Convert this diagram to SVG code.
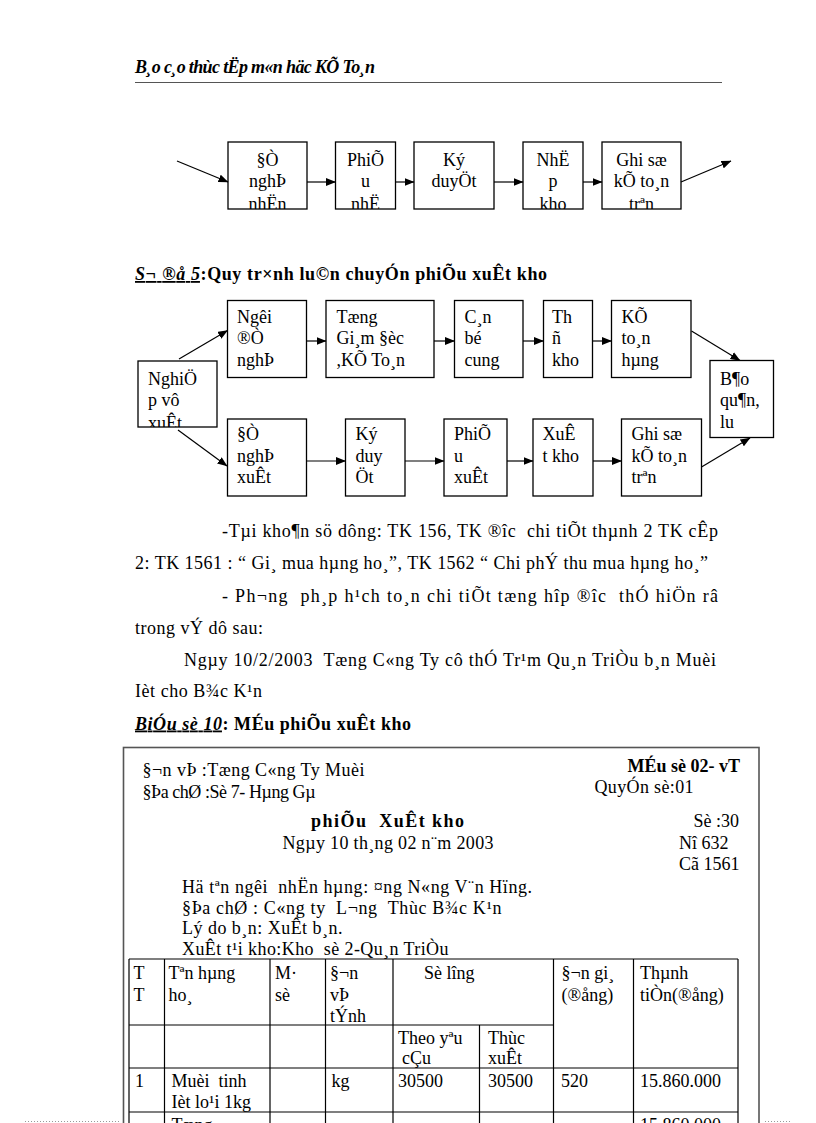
<svg xmlns="http://www.w3.org/2000/svg" width="816" height="1123" viewBox="0 0 816 1123">
<style>
.t{font-family:"Liberation Serif","Times New Roman",serif;font-size:18px;fill:#000}
.c{text-anchor:middle}
.b{font-weight:bold}
.bi{font-weight:bold;font-style:italic}
.u{text-decoration:underline}
.box{fill:#fff;stroke:#000;stroke-width:1.3}
.lnk{stroke:#000;stroke-width:1.2;fill:none;marker-end:url(#ah)}
.tbl{stroke:#000;stroke-width:1.2;fill:none}
.frm{stroke:#555;stroke-width:1.6;fill:none}
</style>
<defs>
<marker id="ah" markerUnits="userSpaceOnUse" markerWidth="10" markerHeight="8" refX="9.5" refY="4" orient="auto"><path d="M0,0 L10,4 L0,8 z" fill="#000"/></marker>
<clipPath id="c1"><rect x="228" y="142" width="79" height="67"/></clipPath>
<clipPath id="c2"><rect x="335.5" y="142" width="60" height="67"/></clipPath>
<clipPath id="c4"><rect x="523" y="142" width="60" height="67"/></clipPath>
<clipPath id="c5"><rect x="602" y="142" width="79" height="67"/></clipPath>
<clipPath id="cL"><rect x="138" y="361" width="79" height="66"/></clipPath>
</defs>
<rect width="816" height="1123" fill="#fff"/>

<g id="header">
<text class="t bi" x="135" y="73" font-size="16" textLength="240" lengthAdjust="spacing">B¸o c¸o thùc tËp m«n häc KÕ To¸n</text>
<line x1="135" y1="82.5" x2="722" y2="82.5" stroke="#555" stroke-width="1"/>
</g>

<!-- Diagram 1 -->
<g id="d1-n1"><rect class="box" x="228" y="142" width="79" height="67"/>
<g clip-path="url(#c1)"><text class="t c" x="267.5" y="165.5">§Ò</text><text class="t c" x="267.5" y="187">nghÞ</text><text class="t c" x="267.5" y="210">nhËn</text></g></g>
<g id="d1-n2"><rect class="box" x="335.5" y="142" width="60" height="67"/>
<g clip-path="url(#c2)"><text class="t c" x="365.5" y="165.5">PhiÕ</text><text class="t c" x="365.5" y="187">u</text><text class="t c" x="365.5" y="210">nhË</text></g></g>
<g id="d1-n3"><rect class="box" x="414" y="142" width="80" height="67"/>
<text class="t c" x="454" y="165.5">Ký</text><text class="t c" x="454" y="187">duyÖt</text></g>
<g id="d1-n4"><rect class="box" x="523" y="142" width="60" height="67"/>
<g clip-path="url(#c4)"><text class="t c" x="553" y="165.5">NhË</text><text class="t c" x="553" y="187">p</text><text class="t c" x="553" y="210">kho</text></g></g>
<g id="d1-n5"><rect class="box" x="602" y="142" width="79" height="67"/>
<g clip-path="url(#c5)"><text class="t c" x="641.5" y="165.5">Ghi sæ</text><text class="t c" x="641.5" y="187">kÕ to¸n</text><text class="t c" x="641.5" y="210">trªn</text></g></g>

<g id="d1-connectors">
<line class="lnk" x1="177" y1="161" x2="228" y2="182"/>
<line class="lnk" x1="307" y1="182" x2="335.5" y2="182"/>
<line class="lnk" x1="395.5" y1="182" x2="414" y2="182"/>
<line class="lnk" x1="494" y1="182" x2="523" y2="182"/>
<line class="lnk" x1="583" y1="182" x2="602" y2="182"/>
<line class="lnk" x1="681" y1="182" x2="731" y2="161"/>
</g>

<g id="title2">
<text class="t b" x="135" y="280" font-size="17.5" textLength="412" lengthAdjust="spacing"><tspan class="bi u">S¬ ®å 5</tspan>:Quy tr×nh lu©n chuyÓn phiÕu xuÊt kho</text>
</g>

<!-- Diagram 2 -->
<g id="d2-nghiep"><rect class="box" x="138" y="361" width="79" height="66"/>
<g clip-path="url(#cL)"><text class="t" x="148" y="384.5">NghiÖ</text><text class="t" x="148" y="406">p vô</text><text class="t" x="148" y="429">xuÊt</text></g></g>
<g id="d2-nguoi"><rect class="box" x="227.5" y="300.5" width="79" height="77"/>
<text class="t" x="237" y="322.5">Ngêi</text><text class="t" x="237" y="344">®Ò</text><text class="t" x="237" y="365.5">nghÞ</text></g>
<g id="d2-tong"><rect class="box" x="326" y="300.5" width="108" height="77"/>
<text class="t" x="336.5" y="322.5">Tæng</text><text class="t" x="336.5" y="344">Gi¸m §èc</text><text class="t" x="336.5" y="365.5">,KÕ To¸n</text></g>
<g id="d2-canbo"><rect class="box" x="454.5" y="300.5" width="68.5" height="77"/>
<text class="t" x="464.5" y="322.5">C¸n</text><text class="t" x="464.5" y="344">bé</text><text class="t" x="464.5" y="365.5">cung</text></g>
<g id="d2-thukho"><rect class="box" x="543.5" y="300.5" width="49" height="77"/>
<text class="t" x="552" y="322.5">Th</text><text class="t" x="552" y="344">ñ</text><text class="t" x="552" y="365.5">kho</text></g>
<g id="d2-ketoan"><rect class="box" x="611.5" y="300.5" width="79.5" height="77"/>
<text class="t" x="621.5" y="322.5">KÕ</text><text class="t" x="621.5" y="344">to¸n</text><text class="t" x="621.5" y="365.5">hµng</text></g>
<g id="d2-baoquan"><rect class="box" x="710" y="360.5" width="63.5" height="77"/>
<text class="t" x="720" y="384.5">B¶o</text><text class="t" x="720" y="406">qu¶n,</text><text class="t" x="720" y="427.5">lu</text></g>
<g id="d2-denghi"><rect class="box" x="227.5" y="419" width="79" height="77"/>
<text class="t" x="237" y="440">§Ò</text><text class="t" x="237" y="461.5">nghÞ</text><text class="t" x="237" y="483">xuÊt</text></g>
<g id="d2-kyduyet"><rect class="box" x="345.5" y="419" width="59.5" height="77"/>
<text class="t" x="355.5" y="440">Ký</text><text class="t" x="355.5" y="461.5">duy</text><text class="t" x="355.5" y="483">Öt</text></g>
<g id="d2-phieu"><rect class="box" x="444" y="419" width="63" height="77"/>
<text class="t" x="454" y="440">PhiÕ</text><text class="t" x="454" y="461.5">u</text><text class="t" x="454" y="483">xuÊt</text></g>
<g id="d2-xuatkho"><rect class="box" x="533" y="419" width="60" height="77"/>
<text class="t" x="542.5" y="440">XuÊ</text><text class="t" x="542.5" y="461.5">t kho</text></g>
<g id="d2-ghiso"><rect class="box" x="621.5" y="419" width="80" height="77"/>
<text class="t" x="631.5" y="440">Ghi sæ</text><text class="t" x="631.5" y="461.5">kÕ to¸n</text><text class="t" x="631.5" y="483">trªn</text></g>

<g id="d2-connectors">
<line class="lnk" x1="179" y1="359" x2="227.5" y2="330.5"/>
<line class="lnk" x1="178" y1="430" x2="227" y2="466"/>
<line class="lnk" x1="306.5" y1="341" x2="326" y2="341"/>
<line class="lnk" x1="434" y1="341" x2="454.5" y2="341"/>
<line class="lnk" x1="523" y1="341" x2="543.5" y2="341"/>
<line class="lnk" x1="592.5" y1="341" x2="611.5" y2="341"/>
<line class="lnk" x1="691.5" y1="331" x2="740" y2="360.5"/>
<line class="lnk" x1="306.5" y1="461" x2="345.5" y2="461"/>
<line class="lnk" x1="405" y1="461" x2="444" y2="461"/>
<line class="lnk" x1="507" y1="461" x2="533" y2="461"/>
<line class="lnk" x1="593" y1="461" x2="621.5" y2="461"/>
<line class="lnk" x1="701.5" y1="467" x2="750" y2="438"/>
</g>

<g id="paragraphs">
<text class="t" xml:space="preserve" x="222" y="537" textLength="496" lengthAdjust="spacing">-Tµi kho¶n sö dông: TK 156, TK ®îc  chi tiÕt thµnh 2 TK cÊp</text>
<text class="t" x="135" y="569" textLength="573" lengthAdjust="spacing">2: TK 1561 : “ Gi¸ mua hµng ho¸”, TK 1562 “ Chi phÝ thu mua hµng ho¸”</text>
<text class="t" xml:space="preserve" x="222" y="602" textLength="496" lengthAdjust="spacing">- Ph¬ng  ph¸p h¹ch to¸n chi tiÕt tæng hîp ®îc  thÓ hiÖn râ</text>
<text class="t" x="135" y="633.5" textLength="128" lengthAdjust="spacing">trong vÝ dô sau:</text>
<text class="t" xml:space="preserve" x="184" y="665.5" textLength="532" lengthAdjust="spacing">Ngµy 10/2/2003  Tæng C«ng Ty cô thÓ Tr¹m Qu¸n TriÒu b¸n Muèi</text>
<text class="t" x="135" y="697" textLength="127" lengthAdjust="spacing">Ièt cho B¾c K¹n</text>
<text class="t b" x="135" y="729.5" textLength="276" lengthAdjust="spacing"><tspan class="bi u">BiÓu sè 10</tspan>: MÉu phiÕu xuÊt kho</text>
</g>

<g id="form">
<rect class="frm" x="123.5" y="747.5" width="635.5" height="400"/>
<text class="t" x="142.5" y="776" textLength="222" lengthAdjust="spacing">§¬n vÞ :Tæng C«ng Ty Muèi</text>
<text class="t" x="142.5" y="797.5" textLength="173" lengthAdjust="spacing">§Þa chØ :Sè 7- Hµng Gµ</text>
<text class="t b" x="740" y="772" text-anchor="end">MÉu sè 02- vT</text>
<text class="t" x="594.5" y="793" textLength="99" lengthAdjust="spacing">QuyÓn sè:01</text>
<text class="t b" xml:space="preserve" x="311" y="826.5" font-size="20" textLength="153" lengthAdjust="spacing">phiÕu  XuÊt kho</text>
<text class="t" x="282.5" y="849" textLength="211" lengthAdjust="spacing">Ngµy 10 th¸ng 02 n¨m 2003</text>
<text class="t" x="739" y="826.5" text-anchor="end">Sè :30</text>
<text class="t" x="679" y="849">Nî 632</text>
<text class="t" x="679" y="869.5">Cã 1561</text>
<text class="t" xml:space="preserve" x="182" y="893" textLength="350" lengthAdjust="spacing">Hä tªn ngêi  nhËn hµng: ¤ng N«ng V¨n Hïng.</text>
<text class="t" xml:space="preserve" x="182" y="913.5" textLength="319.5" lengthAdjust="spacing">§Þa chØ : C«ng ty  L¬ng  Thùc B¾c K¹n</text>
<text class="t" x="182" y="934" textLength="160.5" lengthAdjust="spacing">Lý do b¸n: XuÊt b¸n.</text>
<text class="t" xml:space="preserve" x="182" y="955" textLength="266.5" lengthAdjust="spacing">XuÊt t¹i kho:Kho  sè 2-Qu¸n TriÒu</text>
</g>

<g id="table">
<path class="tbl" d="M129,959 H738 M129,1025 H553.5 M129,1068 H738 M129,1112 H738 M129,959 V1130 M164.5,959 V1130 M270,959 V1130 M325.5,959 V1130 M393,959 V1130 M479.5,1025 V1130 M553.5,959 V1130 M633.5,959 V1130 M738,959 V1130"/>
<text class="t" x="133.5" y="979">T</text><text class="t" x="133.5" y="1000.5">T</text>
<text class="t" x="168.5" y="979">Tªn hµng</text><text class="t" x="168.5" y="1000.5">ho¸</text>
<text class="t" x="275" y="979">M·</text><text class="t" x="275" y="1000.5">sè</text>
<text class="t" x="330" y="979">§¬n</text><text class="t" x="330" y="1000.5">vÞ</text><text class="t" x="330" y="1021.5">tÝnh</text>
<text class="t" x="424" y="979">Sè lîng</text>
<text class="t" x="561.5" y="979">§¬n gi¸</text><text class="t" x="561.5" y="1000.5">(®ång)</text>
<text class="t" x="640" y="979">Thµnh</text><text class="t" x="640" y="1000.5">tiÒn(®ång)</text>
<text class="t" x="398" y="1043.5">Theo yªu</text><text class="t" x="402" y="1064">cÇu</text>
<text class="t" x="488" y="1043.5">Thùc</text><text class="t" x="488" y="1064">xuÊt</text>
<text class="t" x="135" y="1087">1</text>
<text class="t" xml:space="preserve" x="171.5" y="1087">Muèi  tinh</text><text class="t" x="171.5" y="1107.5">Ièt lo¹i 1kg</text>
<text class="t" x="331.5" y="1087">kg</text>
<text class="t" x="398" y="1087">30500</text>
<text class="t" x="488" y="1087">30500</text>
<text class="t" x="561" y="1087">520</text>
<text class="t" x="640" y="1087">15.860.000</text>
<text class="t" x="171.5" y="1131">Tæng</text>
<text class="t" x="640" y="1130.5">15.860.000</text>
</g>

<g id="page-edge">
<line x1="25" y1="1121.5" x2="119" y2="1121.5" stroke="#999" stroke-width="1" stroke-dasharray="1,2"/>
<line x1="765" y1="1121.5" x2="792" y2="1121.5" stroke="#999" stroke-width="1" stroke-dasharray="1,2"/>
</g>
</svg>
